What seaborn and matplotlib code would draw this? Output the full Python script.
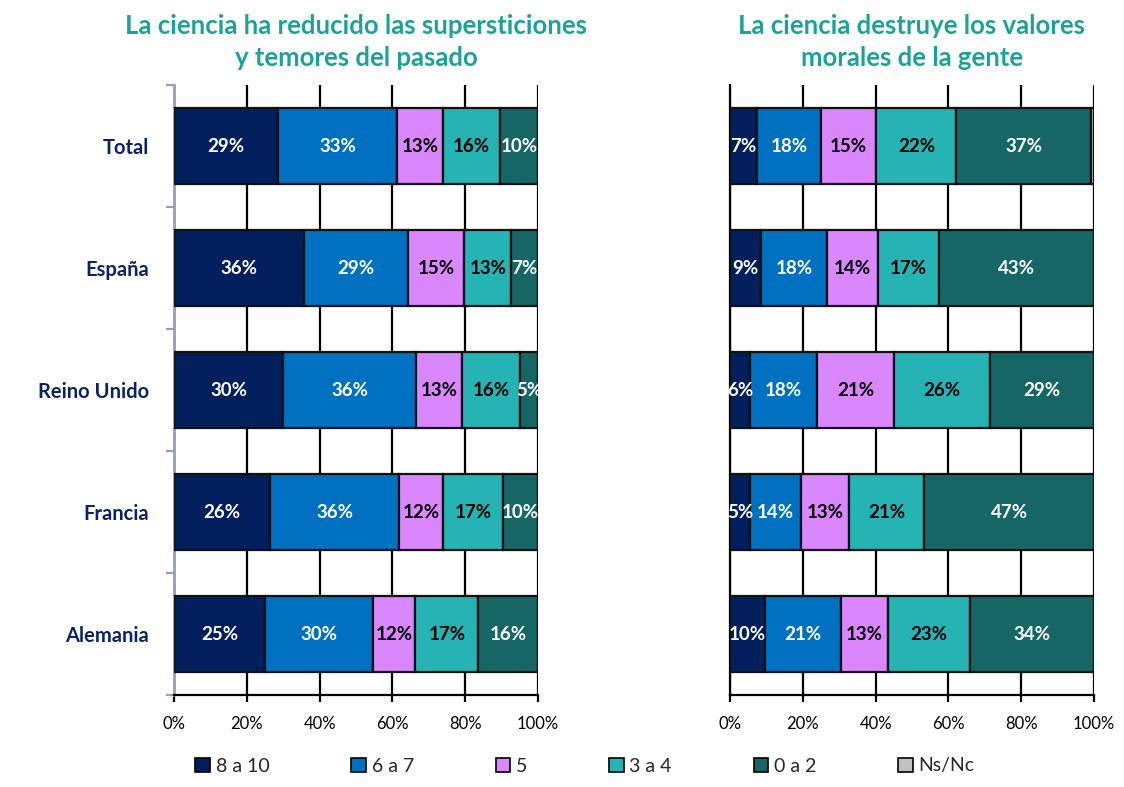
import numpy as np
import pandas as pd
import seaborn as sns
import matplotlib.pyplot as plt
from matplotlib.patches import Patch

sns.set_theme(style="white")
plt.rcParams['font.family'] = ['Lato', 'DejaVu Sans']

countries = ['Total', 'España', 'Reino Unido', 'Francia', 'Alemania']
series = ['8 a 10', '6 a 7', '5', '3 a 4', '0 a 2', 'Ns/Nc']
colors = ['#001F5C', '#0070C0', '#DA86FC', '#26B3B3', '#176666', '#C0C0C0']
text_colors = ['white', 'white', 'black', 'black', 'white', 'black']

title_left = 'La ciencia ha reducido las supersticiones\ny temores del pasado'
title_right = 'La ciencia destruye los valores\nmorales de la gente'

# panel 1: supersticiones
sup_8_10 = [28.6, 35.7, 30.0, 26.3, 25.0]
sup_6_7 = [32.7, 28.6, 36.4, 35.6, 29.7]
sup_5 = [12.7, 15.4, 12.7, 12.0, 11.6]
sup_3_4 = [15.6, 13.0, 16.0, 16.6, 17.3]
sup_0_2 = [10.4, 7.3, 4.9, 9.5, 16.4]
sup_nsnc = [0.0, 0.0, 0.0, 0.0, 0.0]

# panel 2: valores morales
mor_8_10 = [7.4, 8.6, 5.6, 5.4, 9.7]
mor_6_7 = [17.6, 18.0, 18.2, 14.0, 20.7]
mor_5 = [15.2, 14.0, 21.3, 13.4, 13.0]
mor_3_4 = [22.0, 16.8, 26.3, 20.6, 22.6]
mor_0_2 = [37.0, 42.6, 28.6, 46.6, 34.0]
mor_nsnc = [0.8, 0.0, 0.0, 0.0, 0.0]

df_sup = pd.DataFrame(dict(zip(series, [sup_8_10, sup_6_7, sup_5, sup_3_4, sup_0_2, sup_nsnc])), index=countries)
df_mor = pd.DataFrame(dict(zip(series, [mor_8_10, mor_6_7, mor_5, mor_3_4, mor_0_2, mor_nsnc])), index=countries)

fig = plt.figure(figsize=(11.24, 7.87), dpi=100)
W, H = 1124, 787
ax1 = fig.add_axes([174 / W, 1 - 695 / H, 364 / W, 610 / H])
ax2 = fig.add_axes([730 / W, 1 - 695 / H, 364 / W, 610 / H])


def draw(ax, df, title, show_labels):
    y = np.arange(len(df))
    left = np.zeros(len(df))
    for i, s in enumerate(series):
        vals = df[s].values / 100
        ax.barh(y, vals, left=left, height=0.63, color=colors[i],
                edgecolor='#111111', linewidth=1.6, zorder=3)
        for j, v in enumerate(vals):
            if v * 100 >= 1:
                ax.text(left[j] + v / 2, y[j], f'{v * 100:.0f}%', ha='center', va='center',
                        color=text_colors[i], fontsize=13.5, fontweight='bold', zorder=4)
        left += vals
    ax.set_xlim(0, 1)
    ax.set_ylim(len(df) - 0.5, -0.5)
    ax.set_xticks(np.linspace(0, 1, 6))
    ax.set_xticklabels([f'{t}%' for t in range(0, 101, 20)], fontsize=12, color='black')
    ax.grid(axis='x', color='black', linewidth=1.6, zorder=0)
    ax.grid(axis='y', visible=False)
    ax.set_axisbelow(True)
    ax.tick_params(axis='x', which='major', direction='out', length=5, width=1.6,
                   color='black', bottom=True, pad=10)
    for sp in ['top', 'right']:
        ax.spines[sp].set_visible(False)
    ax.spines['bottom'].set_color('black')
    ax.spines['bottom'].set_linewidth(1.6)
    ax.set_title(title, color='#1AA396', fontsize=18.5, fontweight='bold', pad=14, linespacing=1.4)
    if show_labels:
        ax.set_yticks(y)
        ax.set_yticklabels(df.index, fontsize=14.5, fontweight='bold', color='#0A2463')
        ax.set_yticks(np.arange(-0.5, len(df)), minor=True)
        ax.tick_params(axis='y', which='major', length=0, pad=18)
        ax.tick_params(axis='y', which='minor', left=True, direction='out', length=6,
                       width=1.6, color='#95A0B8')
        ax.spines['left'].set_color('#95A0B8')
        ax.spines['left'].set_linewidth(2)
    else:
        ax.set_yticks([])
        ax.spines['left'].set_color('black')
        ax.spines['left'].set_linewidth(1.6)


draw(ax1, df_sup, title_left, True)
draw(ax2, df_mor, title_right, False)

handles = [Patch(facecolor=c, edgecolor='black', linewidth=1.2) for c in colors]
fig.legend(handles, series, loc='center', bbox_to_anchor=(585 / W, 1 - 766 / H), ncol=6,
           frameon=False, fontsize=14, handlelength=0.75, handleheight=0.75,
           handletextpad=0.3, columnspacing=4.2)

fig.savefig('out.png', dpi=100)
